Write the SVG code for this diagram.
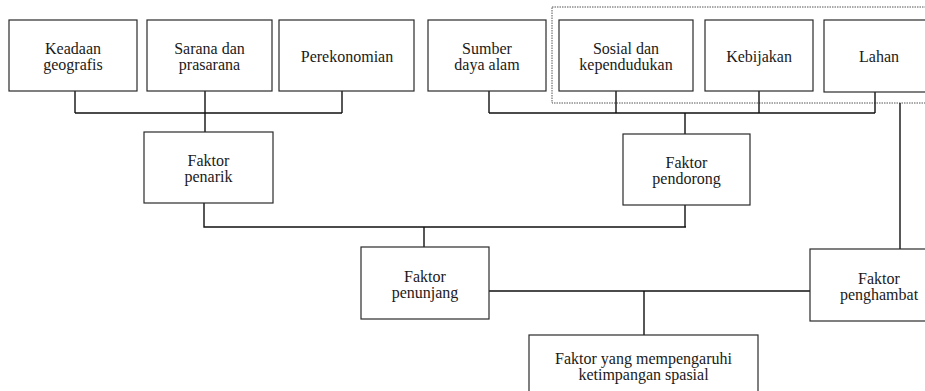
<svg xmlns="http://www.w3.org/2000/svg" width="925" height="391" viewBox="0 0 925 391">
<style>
.box{fill:#fff;stroke:#2a2a2a;stroke-width:1.2}
.ln{fill:none;stroke:#111;stroke-width:1.4}
.grp{fill:none;stroke:#555;stroke-width:1;stroke-dasharray:1.5 1}
</style>
<rect width="925" height="391" fill="#fff"/>
<rect class="grp" x="552" y="7" width="390" height="96"/>
<g id="connectors">
<path class="ln" d="M75 91V113M205 91V132M342 91V113M75 113H342"/>
<path class="ln" d="M489 91V113M616 91V113M759 91V113M875 92V113M489 113H875M685 113V134"/>
<path class="ln" d="M204 203V227H686M685 205V227M424 227V247"/>
<path class="ln" d="M489 291H810M644 291V335"/>
<path class="ln" d="M900 103V249"/>
</g>
<g font-family="Liberation Serif" font-size="16" fill="#1a1a1a" text-anchor="middle">
<g id="keadaan"><rect class="box" x="9" y="20" width="128" height="71"/><text x="73" y="54">Keadaan</text><text x="73" y="70">geografis</text></g>
<g id="sarana"><rect class="box" x="147" y="20" width="125" height="71"/><text x="209.5" y="54">Sarana dan</text><text x="209.5" y="70">prasarana</text></g>
<g id="perekonomian"><rect class="box" x="279" y="20" width="135" height="71"/><text x="347" y="62">Perekonomian</text></g>
<g id="sumber"><rect class="box" x="428" y="20" width="118" height="71"/><text x="487" y="54">Sumber</text><text x="487" y="70">daya alam</text></g>
<g id="sosial"><rect class="box" x="559" y="20" width="134" height="71"/><text x="626" y="54">Sosial dan</text><text x="626" y="70">kependudukan</text></g>
<g id="kebijakan"><rect class="box" x="705" y="20" width="108" height="71"/><text x="759" y="62">Kebijakan</text></g>
<g id="lahan"><rect class="box" x="824" y="20" width="110" height="72"/><text x="879" y="62">Lahan</text></g>
<g id="penarik"><rect class="box" x="144" y="132" width="129" height="71"/><text x="208.5" y="166">Faktor</text><text x="208.5" y="182">penarik</text></g>
<g id="pendorong"><rect class="box" x="623" y="134" width="127" height="71"/><text x="686.5" y="168">Faktor</text><text x="686.5" y="184">pendorong</text></g>
<g id="penunjang"><rect class="box" x="361" y="247" width="128" height="72"/><text x="425" y="281.5">Faktor</text><text x="425" y="297.5">penunjang</text></g>
<g id="penghambat"><rect class="box" x="810" y="249" width="138" height="72"/><text x="879" y="283.5">Faktor</text><text x="879" y="299.5">penghambat</text></g>
<g id="ketimpangan"><rect class="box" x="529" y="335" width="229" height="60"/><text x="643.5" y="363.5">Faktor yang mempengaruhi</text><text x="643.5" y="380">ketimpangan spasial</text></g>
</g>
</svg>
